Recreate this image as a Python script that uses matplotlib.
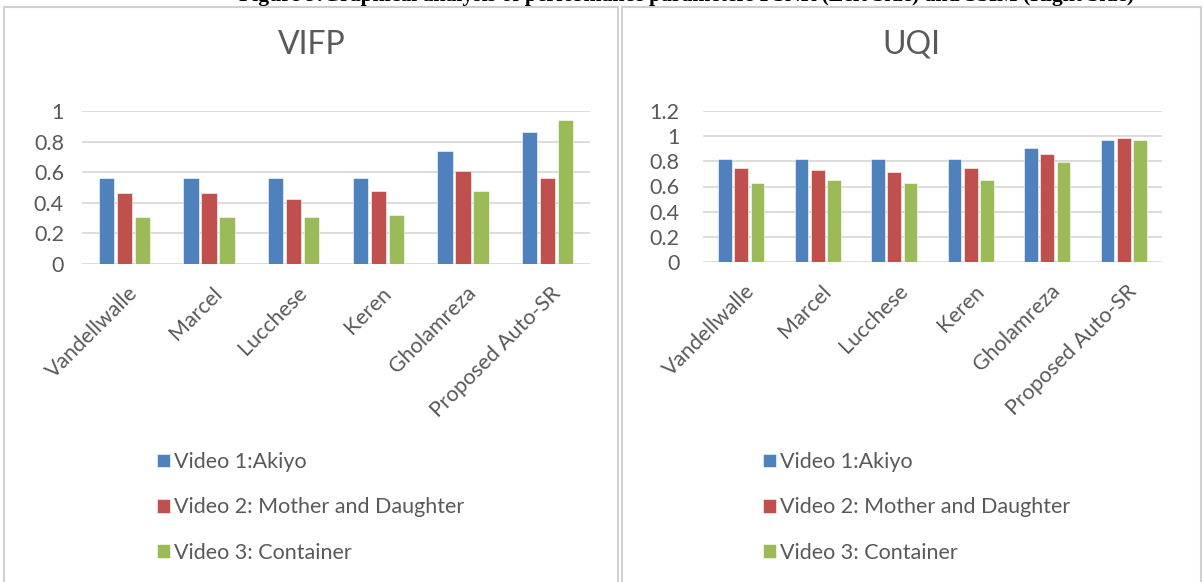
import matplotlib
matplotlib.use("Agg")
import matplotlib.pyplot as plt
from matplotlib.patches import Rectangle
import numpy as np

# Methods compared on the x axis
categories = ["Vandellwalle", "Marcel", "Lucchese", "Keren", "Gholamreza", "Proposed Auto-SR"]
series_names = ["Video 1:Akiyo", "Video 2: Mother and Daughter", "Video 3: Container"]

# VIFP scores per video
vifp_akiyo = [0.56, 0.56, 0.56, 0.56, 0.74, 0.86]
vifp_mother = [0.465, 0.465, 0.425, 0.48, 0.61, 0.56]
vifp_container = [0.305, 0.305, 0.305, 0.32, 0.48, 0.94]

# UQI scores per video
uqi_akiyo = [0.82, 0.82, 0.82, 0.82, 0.903, 0.967]
uqi_mother = [0.744, 0.728, 0.712, 0.744, 0.855, 0.982]
uqi_container = [0.63, 0.648, 0.63, 0.648, 0.794, 0.967]

vifp_ticks = [0, 0.2, 0.4, 0.6, 0.8, 1.0]
vifp_ticklabels = ["0", "0.2", "0.4", "0.6", "0.8", "1"]
uqi_ticks = [0, 0.2, 0.4, 0.6, 0.8, 1.0, 1.2]
uqi_ticklabels = ["0", "0.2", "0.4", "0.6", "0.8", "1", "1.2"]

colors = ["#4F81BD", "#C0504D", "#9BBB59"]
text_gray = "#595959"
grid_gray = "#D9D9D9"
FONT = "Lato"

W, H = 1203, 582
fig = plt.figure(figsize=(W / 100, H / 100), dpi=100)
fig.patch.set_facecolor("white")


def px_axes(left, top, right, bottom):
    return fig.add_axes([left / W, 1 - bottom / H, (right - left) / W, (bottom - top) / H])


# Caption line at the very top of the page (partly cut off)
fig.text(0.5 * (238 + 1136) / W, 1 - 1 / H,
         "Figure 9:Graphical analysis of performance parameters PSNR (Left Side) and SSIM (Right Side)",
         ha="center", va="baseline", fontsize=15.6, fontweight="bold",
         family="Liberation Serif", color="black")

# Chart frames
for (x0, x1) in [(4, 618), (622, 1201)]:
    fig.patches.append(Rectangle((x0 / W, -0.02), (x1 - x0) / W, 1 - 7 / H + 0.02,
                                 transform=fig.transFigure, fill=False,
                                 edgecolor="#D0D0D0", linewidth=1.5))


def draw_chart(ax, series, ticks, ticklabels, ymax, title, title_x, legend_x, ypad):
    n = len(categories)
    x = np.arange(n)
    width = 0.18
    step = 0.212
    bars = []
    for i, (vals, c) in enumerate(zip(series, colors)):
        b = ax.bar(x + (i - 1) * step, vals, width, color=c, edgecolor="white",
                   linewidth=0.4, zorder=3, label=series_names[i])
        bars.append(b)
    ax.set_xlim(-0.5, n - 0.5)
    ax.set_ylim(0, ymax)
    ax.set_yticks(ticks)
    ax.set_yticklabels(ticklabels, family=FONT, fontsize=15.5, color=text_gray)
    ax.tick_params(axis="y", length=0, pad=ypad)
    ax.set_xticks(x)
    ax.set_xticklabels([])
    ax.tick_params(axis="x", length=0)
    for t in ticks:
        ax.axhline(t, color=grid_gray, linewidth=1.3, zorder=1)
    for s in ax.spines.values():
        s.set_visible(False)
    # rotated category labels
    for xi, lab in zip(x, categories):
        ax.annotate(lab, xy=(xi, 0), xycoords="data", xytext=(3, -19),
                    textcoords="offset pixels", rotation=45, rotation_mode="anchor",
                    ha="right", va="top", family=FONT, fontsize=15.5, color=text_gray)
    fig.text(title_x / W, 1 - 45 / H, title, ha="center", va="center",
             family=FONT, fontsize=23, color=text_gray)
    leg = fig.legend(handles=bars, labels=series_names, loc="upper left",
                     bbox_to_anchor=(legend_x / W, 1 - 452 / H), frameon=False,
                     prop={"family": FONT, "size": 15.5}, handlelength=0.6,
                     handleheight=0.6, handletextpad=0.2, labelspacing=1.18,
                     borderpad=0, borderaxespad=0)
    for t in leg.get_texts():
        t.set_color(text_gray)


ax1 = px_axes(82, 111, 590, 264)
draw_chart(ax1, [vifp_akiyo, vifp_mother, vifp_container], vifp_ticks, vifp_ticklabels,
           1.0, "VIFP", 312, 157, 13)

ax2 = px_axes(703, 111, 1162, 262)
draw_chart(ax2, [uqi_akiyo, uqi_mother, uqi_container], uqi_ticks, uqi_ticklabels,
           1.2, "UQI", 911, 763, 17)

fig.savefig("out.png", dpi=100, facecolor="white")
